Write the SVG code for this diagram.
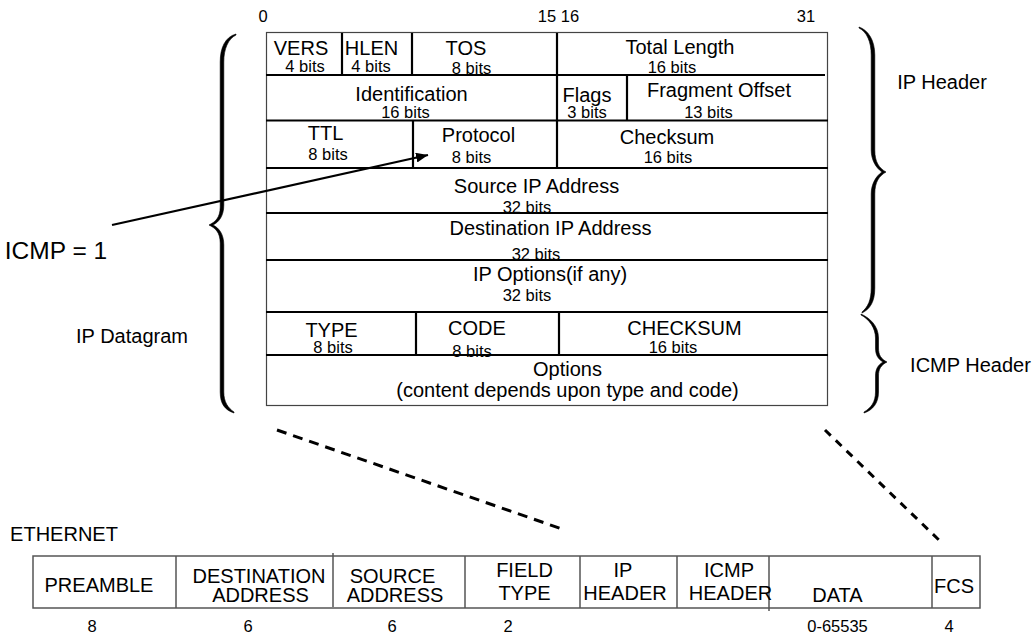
<svg xmlns="http://www.w3.org/2000/svg" width="1036" height="638" viewBox="0 0 1036 638">
<style>
text{font-family:"Liberation Sans",Arial,sans-serif;fill:#000;text-anchor:middle}
.l{font-size:20px}
.s{font-size:16.5px}
.n{font-size:16.5px}
.big{font-size:24.5px}
.row{stroke:#000;stroke-width:2.2;fill:none}
.box{stroke:#444;stroke-width:1.2;fill:#fff}
.eth{stroke:#555;stroke-width:1.5;fill:none}
.brace{fill:#000;stroke:#000;stroke-width:0.6}
.dash1{stroke:#000;stroke-width:3;stroke-dasharray:10 7;fill:none}
.dash2{stroke:#000;stroke-width:3;stroke-dasharray:8 7;fill:none}
</style>
<defs>
<marker id="ah" viewBox="0 0 12 10" refX="12" refY="5" markerWidth="12" markerHeight="10" markerUnits="userSpaceOnUse" orient="auto">
<path d="M0,0 L12,5 L0,10 Z" fill="#000"/>
</marker>
</defs>

<g id="bit-numbers">
<text class="n" x="263" y="22">0</text>
<text class="n" x="547" y="22">15</text>
<text class="n" x="570" y="22">16</text>
<text class="n" x="806" y="22">31</text>
</g>

<g id="ip-datagram">
<rect class="box" x="266.5" y="32.5" width="561" height="373"/>
<g id="rows">
<line class="row" x1="266" y1="75" x2="825" y2="75"/>
<line class="row" x1="266" y1="120.5" x2="828" y2="120.5"/>
<line class="row" x1="266" y1="168" x2="828" y2="168"/>
<line class="row" x1="266" y1="213" x2="828" y2="213"/>
<line class="row" x1="266" y1="260" x2="828" y2="260"/>
<line class="row" x1="266" y1="312" x2="828" y2="312"/>
<line class="row" x1="266" y1="355" x2="828" y2="355"/>
<line class="row" x1="342" y1="33" x2="342" y2="75"/>
<line class="row" x1="412" y1="33" x2="412" y2="75"/>
<line class="row" x1="557" y1="33" x2="557" y2="168"/>
<line class="row" x1="627" y1="75" x2="627" y2="120"/>
<line class="row" x1="413" y1="120" x2="413" y2="168"/>
<line class="row" x1="416" y1="312" x2="416" y2="355"/>
<line class="row" x1="559" y1="312" x2="559" y2="355"/>
</g>
<g id="vers"><text class="l" x="301" y="55">VERS</text><text class="s" x="305" y="72">4 bits</text></g>
<g id="hlen"><text class="l" x="371.5" y="55">HLEN</text><text class="s" x="371" y="72">4 bits</text></g>
<g id="tos"><text class="l" x="466" y="55">TOS</text><text class="s" x="471.5" y="74">8 bits</text></g>
<g id="total-length"><text class="l" x="680" y="54">Total Length</text><text class="s" x="672" y="73">16 bits</text></g>
<g id="identification"><text class="l" x="411.5" y="101">Identification</text><text class="s" x="405.5" y="118">16 bits</text></g>
<g id="flags"><text class="l" x="587" y="102">Flags</text><text class="s" x="587" y="118">3 bits</text></g>
<g id="fragment-offset"><text class="l" x="719" y="97">Fragment Offset</text><text class="s" x="708.5" y="118">13 bits</text></g>
<g id="ttl"><text class="l" x="325.5" y="140">TTL</text><text class="s" x="328" y="160">8 bits</text></g>
<g id="protocol"><text class="l" x="478.5" y="142">Protocol</text><text class="s" x="471.5" y="163">8 bits</text></g>
<g id="checksum"><text class="l" x="667" y="144">Checksum</text><text class="s" x="668" y="163">16 bits</text></g>
<g id="source-ip"><text class="l" x="536.5" y="193">Source IP Address</text><text class="s" x="527" y="213">32 bits</text></g>
<g id="dest-ip"><text class="l" x="550.5" y="235">Destination IP Address</text><text class="s" x="536" y="260">32 bits</text></g>
<g id="ip-options"><text class="l" x="550" y="281">IP Options(if any)</text><text class="s" x="527" y="301">32 bits</text></g>
<g id="icmp-type"><text class="l" x="331.5" y="337">TYPE</text><text class="s" x="333" y="353">8 bits</text></g>
<g id="icmp-code"><text class="l" x="477" y="335">CODE</text><text class="s" x="472" y="357">8 bits</text></g>
<g id="icmp-checksum"><text class="l" x="684.5" y="335">CHECKSUM</text><text class="s" x="673" y="353">16 bits</text></g>
<g id="icmp-options"><text class="l" x="567.5" y="376">Options</text><text class="l" x="567.5" y="397">(content depends upon type and code)</text></g>
</g>

<g id="brace-ip-datagram">
<path class="brace" d="M236,34 C225,37 220.2,48 220.2,62 L220.2,207 C220.2,218 215,222 209,225 C215,228 220.2,232 220.2,243 L220.2,392 C220.2,404 225,410 234,413 L234,412 C228,408 223.8,402 223.8,392 L223.8,245 C223.8,234 219,228 213,225 C219,222 223.8,216 223.8,205 L223.8,62 C223.8,49 228,39 236,35 Z"/>
<text class="l" x="132" y="343">IP Datagram</text>
</g>
<g id="brace-ip-header">
<path class="brace" d="M859,27 C868,30 874.8,40 874.8,55 L874.8,150 C874.8,162 879,168 886,172 C879,176 874.8,182 874.8,194 L874.8,288 C874.8,302 870,309 862,313 L862,312 C868,307 871.2,300 871.2,288 L871.2,194 C871.2,184 876,176 882,172 C876,168 871.2,160 871.2,150 L871.2,55 C871.2,42 867,32 859,28 Z"/>
<text class="l" x="942" y="89">IP Header</text>
</g>
<g id="brace-icmp-header">
<path class="brace" d="M861,314 C870,318 878.5,326 878.5,338 L878.5,348 C878.5,355 881,359 887,362 C881,365 878.5,369 878.5,376 L878.5,392 C878.5,403 873,410 864,413 L864,412 C871,408 875.5,402 875.5,392 L875.5,376 C875.5,369 878,365 883,362 C878,359 875.5,355 875.5,348 L875.5,338 C875.5,328 869,319 861,315 Z"/>
<text class="l" x="970.5" y="372">ICMP Header</text>
</g>

<g id="icmp-label">
<text class="big" x="56" y="259">ICMP = 1</text>
</g>

<g id="connectors">
<line x1="112" y1="225" x2="428" y2="155" stroke="#000" stroke-width="2.2" marker-end="url(#ah)"/>
<line class="dash1" x1="277" y1="430" x2="565" y2="530"/>
<line class="dash2" x1="825" y1="430" x2="940" y2="541"/>
</g>

<g id="ethernet-frame">
<text class="l" x="64" y="541">ETHERNET</text>
<rect class="eth" x="33" y="556" width="947" height="52" fill="#fff"/>
<line class="eth" x1="176" y1="556" x2="176" y2="608"/>
<line class="eth" x1="333" y1="553" x2="333" y2="607"/>
<line class="eth" x1="465" y1="556" x2="465" y2="608"/>
<line class="eth" x1="580" y1="556" x2="580" y2="608"/>
<line class="eth" x1="677" y1="556" x2="677" y2="608"/>
<line class="eth" x1="769" y1="556" x2="769" y2="611"/>
<line class="eth" x1="932" y1="556" x2="932" y2="608"/>
<g id="eth-preamble"><text class="l" x="99" y="592">PREAMBLE</text><text class="n" x="92" y="632">8</text></g>
<g id="eth-dest"><text class="l" x="259" y="583">DESTINATION</text><text class="l" x="260.5" y="602">ADDRESS</text><text class="n" x="248" y="632">6</text></g>
<g id="eth-src"><text class="l" x="392.5" y="583">SOURCE</text><text class="l" x="395" y="602">ADDRESS</text><text class="n" x="392" y="632">6</text></g>
<g id="eth-type"><text class="l" x="524.5" y="577">FIELD</text><text class="l" x="524.5" y="600">TYPE</text><text class="n" x="508" y="632">2</text></g>
<g id="eth-ip"><text class="l" x="623" y="577">IP</text><text class="l" x="625" y="600">HEADER</text></g>
<g id="eth-icmp"><text class="l" x="729" y="577">ICMP</text><text class="l" x="730.5" y="600">HEADER</text></g>
<g id="eth-data"><text class="l" x="837.5" y="602">DATA</text><text class="n" x="837.5" y="632">0-65535</text></g>
<g id="eth-fcs"><text class="l" x="954" y="593">FCS</text><text class="n" x="949" y="632">4</text></g>
</g>
</svg>
